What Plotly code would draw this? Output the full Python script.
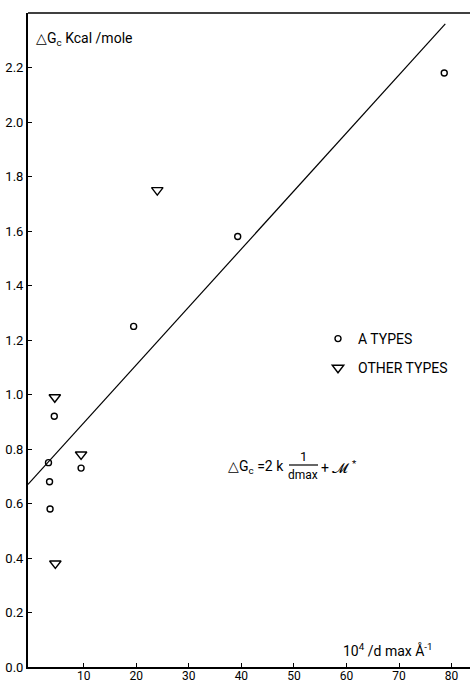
import plotly.graph_objects as go

# ---- data ----
a_x = [3.3, 3.5, 3.6, 4.4, 9.5, 19.5, 39.3, 78.6]
a_y = [0.75, 0.68, 0.58, 0.92, 0.73, 1.25, 1.58, 2.18]
other_x = [4.5, 4.6, 9.5, 24.0]
other_y = [0.99, 0.38, 0.78, 1.75]
fit_x = [-0.6, 78.8]
fit_y = [0.67, 2.36]
x_ticks = [10, 20, 30, 40, 50, 60, 70, 80]
y_ticks = [0.0, 0.2, 0.4, 0.6, 0.8, 1.0, 1.2, 1.4, 1.6, 1.8, 2.0, 2.2]

FONT = "Roboto, Lato, sans-serif"

W, H = 472, 685
L, R, T, B = 28, 2, 13, 18
pw, ph = W - L - R, H - T - B


def pp(px, py):
    """page pixel -> paper coords"""
    return (px - L) / pw, (H - B - py) / ph


fig = go.Figure()
fig.add_trace(go.Scatter(x=fit_x, y=fit_y, mode="lines",
                         line=dict(color="black", width=1.2),
                         showlegend=False, hoverinfo="skip"))
fig.add_trace(go.Scatter(x=a_x, y=a_y, mode="markers", name="A TYPES",
                         legendgroup="a",
                         marker=dict(symbol="circle-open", size=6,
                                     color="black", line=dict(width=1.4))))
fig.add_trace(go.Scatter(x=other_x, y=other_y, mode="markers",
                         name="OTHER TYPES", legendgroup="o",
                         marker=dict(symbol="triangle-down-open", size=10,
                                     color="black", line=dict(width=1.4))))

ann = []


def add_text(px, py, text, size=14, xanchor="left"):
    x, y = pp(px, py)
    ann.append(dict(x=x, y=y, xref="paper", yref="paper", text=text,
                    showarrow=False, xanchor=xanchor, yanchor="middle",
                    font=dict(family=FONT, size=size, color="black")))


add_text(34, 39, "△G<sub>c</sub> Kcal /mole", 14)
add_text(341, 650, "10<sup>4</sup> /d max Å<sup>-1</sup>", 14)
# formula
add_text(226, 467, "△G<sub>c</sub> =2 k", 14)
add_text(303, 456, "1", 13, xanchor="center")
add_text(303, 475, "dmax", 12, xanchor="center")
add_text(319, 467, "+ 𝓜 <sup>*</sup>", 14)

fx0, fy = pp(289, 465)
fx1, _ = pp(318, 465)

lx, ly = pp(318, 323)

fig.update_layout(
    width=W, height=H,
    margin=dict(l=L, r=R, t=T, b=B, autoexpand=False),
    paper_bgcolor="white", plot_bgcolor="white",
    font=dict(family=FONT, size=14, color="black"),
    annotations=ann,
    shapes=[
        dict(type="line", xref="paper", yref="paper", x0=0, x1=1, y0=1, y1=1,
             line=dict(color="black", width=1.5)),
        dict(type="line", xref="paper", yref="paper", x0=fx0, x1=fx1,
             y0=fy, y1=fy, line=dict(color="black", width=1.2)),
    ],
    legend=dict(x=lx, y=ly, xanchor="left", yanchor="top",
                bgcolor="rgba(0,0,0,0)",
                font=dict(family=FONT, size=14, color="black"),
                tracegroupgap=8, itemwidth=30),
    xaxis=dict(range=[-0.6, 83.5], tickvals=x_ticks,
               ticktext=[str(v) for v in x_ticks], automargin=False,
               showgrid=False, zeroline=False, showline=True,
               linecolor="black", linewidth=2, ticks="inside", ticklen=4,
               tickcolor="black", ticklabelstandoff=-3,
               tickfont=dict(family=FONT, size=12)),
    yaxis=dict(range=[0, 2.4], tickvals=y_ticks,
               ticktext=[f"{v:.1f}" for v in y_ticks], automargin=False,
               showgrid=False, zeroline=False, showline=True,
               linecolor="black", linewidth=2, ticks="inside", ticklen=4,
               tickcolor="black", ticklabelstandoff=0,
               tickfont=dict(family=FONT, size=13)),
)

fig.write_html(
    "out.html",
    config={"displayModeBar": False},
    post_script="document.body.style.margin='0px';"
                "document.body.style.overflow='hidden';",
)
